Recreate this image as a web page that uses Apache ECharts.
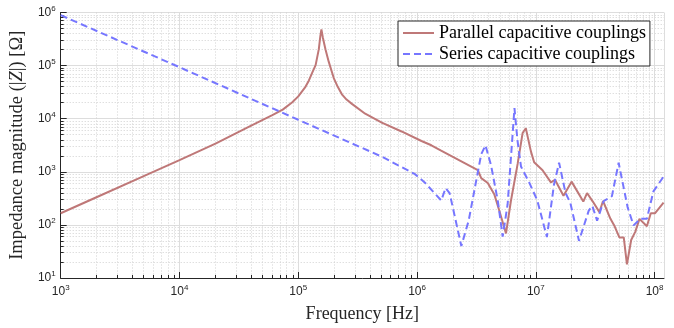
<!DOCTYPE html>
<html>
<head>
<meta charset="utf-8">
<script src="https://cdn.jsdelivr.net/npm/echarts@6/dist/echarts.min.js"></script>
<style>
  html, body { margin: 0; padding: 0; background: #fff; }
  #chart { width: 674px; height: 328px; }
</style>
</head>
<body>
<div id="chart"></div>
<script>
// (Hz / Ohm)
const parallelFreq = [1e3, 2e3, 5e3, 1e4, 2.03e4, 3.86e4, 6.05e4, 7.4e4, 8.91e4, 1.0e5, 1.15e5, 1.23e5, 1.32e5, 1.40e5, 1.49e5,
  1.535e5, 1.567e5, 1.61e5, 1.694e5, 1.807e5, 1.99e5, 2.15e5, 2.33e5, 2.55e5, 2.83e5, 3.66e5, 5.05e5, 7.41e5, 1.09e6, 1.32e6, 1.58e6,
  3.25e6, 3.47e6, 3.94e6, 4.48e6, 4.93e6, 5.61e6,
  6.17e6, 7.03e6, 7.74e6, 8.24e6, 9.08e6, 9.68e6, 1.14e7, 1.34e7, 1.45e7, 1.71e7, 2.0e7, 2.51e7, 2.70e7, 3.02e7,
  3.43e7, 3.68e7, 4.25e7, 4.61e7, 5.05e7, 5.50e7, 5.85e7, 6.35e7, 6.87e7, 7.46e7, 8.61e7, 9.29e7, 1.01e8, 1.19e8];
const parallelZ = [166, 332, 830, 1660, 3430, 7080, 11640, 14800, 20400, 26300, 39800, 52500, 76000, 102000, 204000,
  363000, 479000, 339000, 204000, 117500, 58300, 39800, 28800, 22900, 19000, 12400, 8410, 5750, 3800, 3160, 2540,
  1070, 760, 617, 372, 185, 69,
  282, 1410, 5370, 6610, 2450, 1510, 1070, 631, 708, 355, 653, 275, 398, 275,
  174, 282, 130, 94, 58, 58, 18, 52, 74, 130, 94, 166, 166, 263];

const seriesFreq = [1e3, 1e4, 1e5, 5.05e5, 9.6e5, 1.16e6, 1.60e6, 1.74e6, 1.88e6, 2.36e6, 2.72e6, 3.47e6, 3.77e6,
  4.2e6, 4.79e6, 5.26e6, 5.79e6, 6.61e6, 7.0e6, 7.5e6, 8.79e6, 1.03e7, 1.24e7, 1.42e7, 1.57e7, 1.78e7, 1.95e7,
  2.31e7, 2.79e7, 2.99e7, 3.28e7, 3.73e7, 4.37e7, 4.98e7, 5.93e7, 6.65e7, 7.57e7, 8.61e7, 9.77e7, 1.19e8];
const seriesZ = [891000, 93300, 9550, 1930, 904, 631, 288, 495, 398, 40, 120, 2140, 3160,
  1320, 282, 60, 245, 15800, 3980, 1260, 631, 288, 59, 562, 1480, 398, 263,
  50, 186, 229, 120, 282, 347, 1480, 214, 98, 130, 130, 427, 813];

const minorX = [];
for (let d = 1e3; d < 1e9; d *= 10) for (let k = 2; k <= 9; k++) minorX.push(k * d);
const minorY = [];
for (let d = 10; d < 1e6; d *= 10) for (let k = 2; k <= 9; k++) minorY.push(k * d);

const pairs = (xs, ys) => xs.map((x, i) => [x, ys[i]]);

const ink = '#262626';
const tickFont = 'Liberation Sans';
const serif = 'Liberation Serif';
const powLabel = v => '{b|10}{s|' + Math.round(Math.log10(v)) + '}';
const powRich = {
  b: { fontFamily: tickFont, fontSize: 12, color: ink },
  s: { fontFamily: tickFont, fontSize: 8, color: ink, verticalAlign: 'bottom', padding: [0, 0, 8, 0] }
};

const chart = echarts.init(document.getElementById('chart'));
chart.setOption({
  animation: false,
  grid: { left: 57, right: 10, top: 12.5, bottom: 42, containLabel: false },
  legend: {
    orient: 'vertical',
    left: 398, top: 21,
    padding: [3, 4, 3, 4],
    itemWidth: 31, itemHeight: 14, itemGap: 3,
    borderColor: ink, borderWidth: 1,
    backgroundColor: '#fff',
    itemStyle: { opacity: 0 },
    textStyle: { fontFamily: serif, fontSize: 18, lineHeight: 18, color: '#000' },
    data: ['Parallel capacitive couplings', 'Series capacitive couplings']
  },
  xAxis: [{
    type: 'log', logBase: 10, min: 1e3, max: 1.2e8,
    name: 'Frequency [Hz]', nameLocation: 'middle', nameGap: 27,
    nameTextStyle: { fontFamily: serif, fontSize: 18, color: ink },
    axisLine: { show: true, onZero: false, lineStyle: { color: ink, width: 1 } },
    axisTick: { show: true, inside: true, length: 6, lineStyle: { color: ink } },
    axisLabel: { formatter: powLabel, rich: powRich, margin: 6 },
    splitLine: { show: true, lineStyle: { color: '#dddddd', width: 1 } }
  }, {
    type: 'log', logBase: 10, min: 1e3, max: 1.2e8, position: 'bottom',
    axisLine: { show: false },
    axisLabel: { show: false },
    axisTick: { show: true, inside: true, length: 3, customValues: minorX, lineStyle: { color: ink } },
    splitLine: { show: true, lineStyle: { color: '#d0d0d0', width: 1, type: [1, 2] } }
  }],
  yAxis: [{
    type: 'log', logBase: 10, min: 10, max: 1e6,
    name: 'Impedance magnitude (|{i|Z}|) [Ω]', nameLocation: 'middle', nameGap: 32, nameRotate: 90,
    nameTextStyle: { fontFamily: serif, fontSize: 18.5, color: ink,
      rich: { i: { fontFamily: serif, fontSize: 18.5, fontStyle: 'italic', color: ink } } },
    axisLine: { show: true, onZero: false, lineStyle: { color: ink, width: 1 } },
    axisTick: { show: true, inside: true, length: 6, lineStyle: { color: ink } },
    axisLabel: { formatter: powLabel, rich: powRich, margin: 5 },
    splitLine: { show: true, lineStyle: { color: '#dddddd', width: 1 } }
  }, {
    type: 'log', logBase: 10, min: 10, max: 1e6, position: 'left',
    axisLine: { show: false },
    axisLabel: { show: false },
    axisTick: { show: true, inside: true, length: 3, customValues: minorY, lineStyle: { color: ink } },
    splitLine: { show: true, lineStyle: { color: '#d0d0d0', width: 1, type: [1, 2] } }
  }],
  series: [{
    name: 'Parallel capacitive couplings',
    type: 'line', showSymbol: false, symbol: 'none',
    lineStyle: { color: '#bf7878', width: 2 },
    itemStyle: { color: '#bf7878' },
    data: pairs(parallelFreq, parallelZ),
    z: 3
  }, {
    name: 'Series capacitive couplings',
    type: 'line', showSymbol: false, symbol: 'none',
    lineStyle: { color: '#7676ff', width: 2, type: [7, 4] },
    itemStyle: { color: '#7676ff' },
    data: pairs(seriesFreq, seriesZ),
    z: 4
  }]
});
</script>
</body>
</html>
